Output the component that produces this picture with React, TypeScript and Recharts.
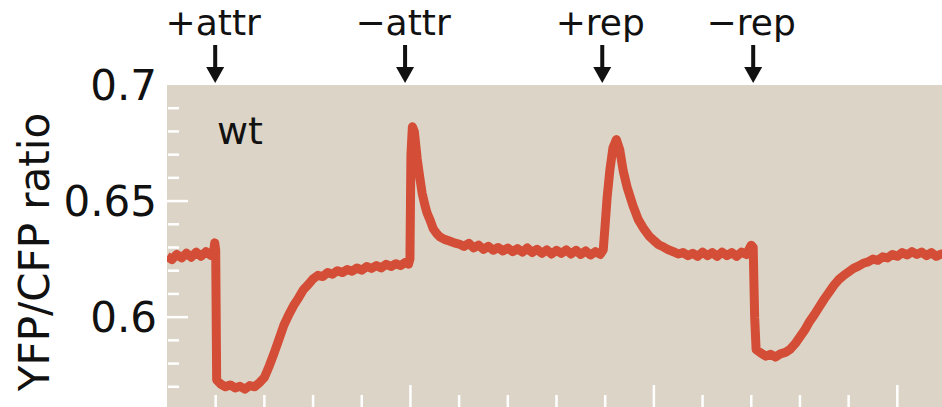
import { LineChart, Line, XAxis, YAxis, CartesianGrid } from "recharts";

// time (arbitrary units, 1 = one minor tick) and YFP/CFP ratio
const time = [
  0, 0.1, 0.2, 0.3, 0.4, 0.5, 0.6, 0.7, 0.8, 0.9, 0.95, 0.98, 1.0,
  1.02, 1.1, 1.2, 1.3, 1.4, 1.5, 1.6, 1.7, 1.8, 1.9, 2.0,
  2.1, 2.2, 2.3, 2.4, 2.5, 2.6, 2.7, 2.8, 2.9, 3.0,
  3.1, 3.2, 3.3, 3.4, 3.5, 3.6, 3.7, 3.8, 3.9, 4.0,
  4.1, 4.2, 4.3, 4.4, 4.5, 4.6, 4.7, 4.8, 4.9, 4.96, 4.99,
  5.01, 5.04, 5.08, 5.14, 5.2, 5.24, 5.3, 5.34, 5.4, 5.47, 5.54, 5.61, 5.7, 5.8, 5.9,
  6.0, 6.1, 6.2, 6.3, 6.4, 6.5, 6.6, 6.7, 6.8, 6.9,
  7.0, 7.1, 7.2, 7.3, 7.4, 7.5, 7.6, 7.7, 7.8, 7.9,
  8.0, 8.1, 8.2, 8.3, 8.4, 8.5, 8.6, 8.7, 8.8, 8.9, 8.96,
  9.0, 9.04, 9.1, 9.16, 9.23, 9.3, 9.37, 9.45, 9.57, 9.68, 9.78, 9.9,
  10.0, 10.1, 10.2, 10.3, 10.4, 10.5, 10.6, 10.7, 10.8, 10.9,
  11.0, 11.1, 11.2, 11.3, 11.4, 11.5, 11.6, 11.7, 11.8, 11.9, 12.0, 12.04,
  12.07, 12.1, 12.2, 12.3, 12.4, 12.5, 12.6, 12.7, 12.8, 12.9,
  13.0, 13.1, 13.2, 13.3, 13.4, 13.5, 13.6, 13.7, 13.8, 13.9,
  14.0, 14.1, 14.2, 14.3, 14.4, 14.5, 14.6, 14.7, 14.8, 14.9,
  15.0, 15.1, 15.2, 15.3, 15.4, 15.5, 15.6, 15.7, 15.8, 15.9, 16.0,
];

const ratio = [
  0.6262, 0.6248, 0.627, 0.6255, 0.6275, 0.6258, 0.628, 0.6262, 0.6282, 0.6266, 0.6272, 0.632, 0.629,
  0.573, 0.5712, 0.57, 0.5708, 0.5695, 0.5702, 0.569, 0.5705, 0.57, 0.5718, 0.574,
  0.579, 0.5845, 0.5905, 0.5965, 0.601, 0.605, 0.6082, 0.6118, 0.614, 0.6165,
  0.618, 0.6175, 0.6192, 0.6185, 0.62, 0.6192, 0.6205, 0.6198, 0.6212, 0.6202,
  0.6218, 0.621, 0.6222, 0.6212, 0.6228, 0.6218, 0.623, 0.6222, 0.6236, 0.6228, 0.625,
  0.67, 0.682, 0.68, 0.668, 0.659, 0.6534, 0.648, 0.645, 0.642, 0.638, 0.636, 0.6345, 0.6335, 0.6328, 0.632,
  0.6315, 0.6305, 0.6318, 0.6298, 0.631, 0.6292, 0.6305, 0.6288, 0.63, 0.6285,
  0.6298, 0.6282, 0.6295, 0.628, 0.6298, 0.6278, 0.6292, 0.6275, 0.629, 0.6272,
  0.6288, 0.6275, 0.629, 0.6272, 0.6288, 0.627, 0.6285, 0.6268, 0.6282, 0.627, 0.629,
  0.64, 0.6517, 0.664, 0.673, 0.6765, 0.672, 0.663, 0.656, 0.648, 0.642, 0.6385, 0.635,
  0.633, 0.6312, 0.6302, 0.629, 0.6282, 0.6272, 0.6278, 0.6265, 0.6275, 0.6262,
  0.628, 0.6265, 0.6278, 0.6262, 0.628, 0.6265, 0.6278, 0.6262, 0.628, 0.627, 0.631, 0.63,
  0.6, 0.586, 0.5845, 0.5832, 0.584, 0.5828, 0.5842, 0.5848, 0.5862, 0.5885,
  0.5915, 0.5945, 0.5982, 0.6012, 0.6045, 0.6078, 0.6108, 0.6138, 0.6162, 0.618,
  0.6195, 0.621, 0.622, 0.6232, 0.6238, 0.625, 0.6245, 0.626, 0.6255, 0.627,
  0.6262, 0.6278, 0.6268, 0.6282, 0.627, 0.628, 0.6265, 0.6278, 0.6262, 0.6272, 0.6268,
];

const eventTimes = [0.99, 4.89, 8.94, 12.04];
const eventLabels = ["+attr", "\u2212attr", "+rep", "\u2212rep"];

const yLabelTicks = [0.6, 0.65, 0.7];
const yMajorTicks = [0.6, 0.65];
const yMinorTicks = [0.56, 0.57, 0.58, 0.59, 0.61, 0.62, 0.63, 0.64, 0.66, 0.67, 0.68, 0.69];
const xMajorTicks = [5, 10, 15];
const xMinorTicks = [1, 2, 3, 4, 6, 7, 8, 9, 11, 12, 13, 14, 16];

const data = time.map((t, i) => ({ t, ratio: ratio[i] }));

const FONT = "DejaVu Sans";
const INK = "#111";
const X_DOMAIN = [0, 16];
const Y_DOMAIN = [0.56, 0.7];

function EventTick(props: any) {
  const { x, y, index } = props;
  return (
    <g>
      <text x={x - 2} y={y - 50} textAnchor="middle" fontSize={36} fontFamily={FONT} fill={INK}>
        {eventLabels[index]}
      </text>
      <rect x={x - 2} y={y - 40} width={4} height={23} fill={INK} />
      <polygon points={`${x - 9},${y - 18} ${x + 9},${y - 18} ${x},${y - 2}`} fill={INK} />
    </g>
  );
}

// white tick marks pointing into the plot
const inwardX = (len: number) => (p: any) => (
  <line x1={p.x} x2={p.x} y1={p.y} y2={p.y - len} stroke="#fff" strokeWidth={2.5} />
);
const inwardY = (len: number) => (p: any) => (
  <line x1={p.x} x2={p.x + len} y1={p.y} y2={p.y} stroke="#fff" strokeWidth={2.5} />
);

export default function App() {
  return (
    <div
      style={{
        position: "absolute",
        left: 0,
        top: 0,
        width: 942,
        height: 407,
        overflow: "hidden",
        background: "#fff",
      }}
    >
      <LineChart width={946} height={410} data={data} margin={{ top: 0, right: 0, bottom: 0, left: 0 }}>
        <CartesianGrid fill="#dcd5c7" horizontal={false} vertical={false} />

        {/* event arrows above the plot */}
        <XAxis
          xAxisId="events"
          orientation="top"
          dataKey="t"
          type="number"
          domain={X_DOMAIN}
          allowDataOverflow
          height={85}
          ticks={eventTimes}
          interval={0}
          tickLine={false}
          axisLine={false}
          tickSize={0}
          tickMargin={0}
          tick={(p: any) => <EventTick {...p} />}
        />
        {/* inward x ticks */}
        <XAxis
          xAxisId="minor"
          dataKey="t"
          type="number"
          domain={X_DOMAIN}
          allowDataOverflow
          mirror
          height={1}
          ticks={xMinorTicks}
          interval={0}
          axisLine={false}
          tickLine={false}
          tickSize={0}
          tickMargin={0}
          tick={inwardX(14)}
        />
        <XAxis
          xAxisId="major"
          dataKey="t"
          type="number"
          domain={X_DOMAIN}
          allowDataOverflow
          mirror
          height={1}
          ticks={xMajorTicks}
          interval={0}
          axisLine={false}
          tickLine={false}
          tickSize={0}
          tickMargin={0}
          tick={inwardX(25)}
        />

        <YAxis
          yAxisId="labels"
          type="number"
          domain={Y_DOMAIN}
          allowDataOverflow
          width={167}
          ticks={yLabelTicks}
          interval={0}
          tickLine={false}
          axisLine={false}
          tickSize={0}
          tickMargin={10}
          tick={{ fontSize: 42, fontFamily: FONT, fill: INK }}
          label={{
            content: () => (
              <text
                transform="translate(49,252) rotate(-90)"
                textAnchor="middle"
                fontSize={42}
                fontFamily={FONT}
                fill={INK}
              >
                YFP/CFP ratio
              </text>
            ),
          }}
        />
        <YAxis
          yAxisId="minorY"
          type="number"
          domain={Y_DOMAIN}
          allowDataOverflow
          mirror
          width={1}
          ticks={yMinorTicks}
          interval={0}
          axisLine={false}
          tickLine={false}
          tickSize={0}
          tickMargin={0}
          tick={inwardY(11)}
        />
        <YAxis
          yAxisId="majorY"
          type="number"
          domain={Y_DOMAIN}
          allowDataOverflow
          mirror
          width={1}
          ticks={yMajorTicks}
          interval={0}
          axisLine={false}
          tickLine={false}
          tickSize={0}
          tickMargin={0}
          tick={inwardY(21)}
        />

        <Line
          xAxisId="minor"
          yAxisId="labels"
          type="linear"
          dataKey="ratio"
          stroke="#d44d37"
          strokeWidth={9}
          strokeLinejoin="round"
          dot={false}
          activeDot={false}
          isAnimationActive={false}
        />

        <text x={217} y={144} fontSize={38} fontFamily={FONT} fill={INK}>
          wt
        </text>
      </LineChart>
    </div>
  );
}
